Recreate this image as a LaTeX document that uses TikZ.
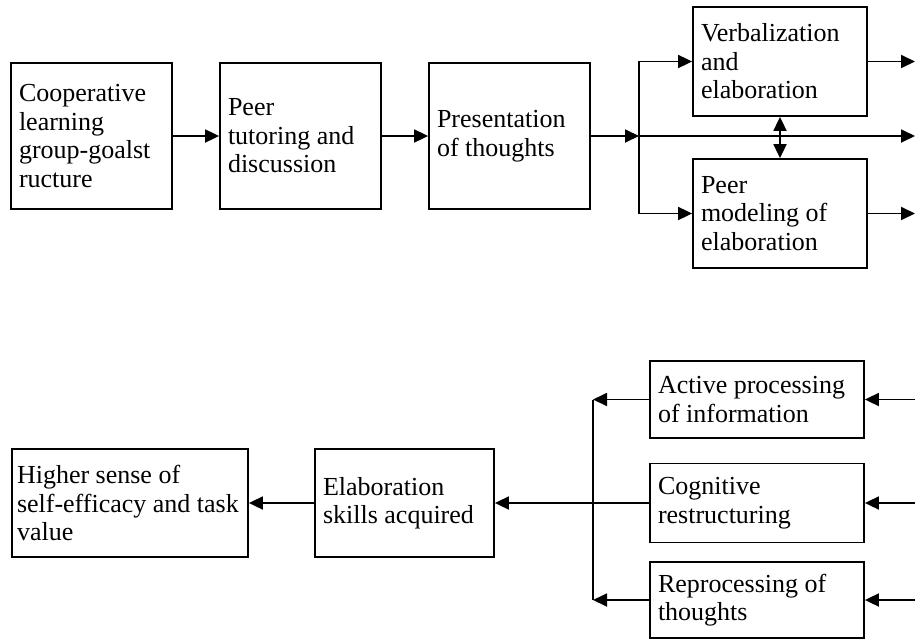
\documentclass[tikz,border=0pt]{standalone}
\usepackage{fontspec}
\setmainfont{Liberation Serif}
\usetikzlibrary{arrows.meta, positioning, calc}
\tikzset{
    box/.style={draw, line width=1.8pt, rectangle, align=flush left, inner xsep=8pt, inner ysep=0pt,
        font=\fontsize{26}{28.5}\selectfont},
    rowbox/.style={box, minimum width=161pt, text width=145pt, minimum height=146pt},
    sidebox/.style={box, minimum width=174pt, text width=158pt, minimum height=109pt},
    procbox/.style={box, minimum width=214pt, text width=198pt, minimum height=77pt},
    arrow/.style={-{Triangle[length=14pt,width=13pt]}, line width=1.8pt},
    line/.style={line width=1.8pt}
}
\begin{document}
\begin{tikzpicture}[x=1pt, y=-1pt]
    \useasboundingbox (0,0) rectangle (915,640);

    % upper chain
    \node (coop) [rowbox] at (91.5,136) {Cooperative\\learning\\group-goalst\\ructure};
    \node (peer) [rowbox] at (300.5,136) {Peer\\tutoring and\\discussion};
    \node (pres) [rowbox] at (509.5,136) {Presentation\\of thoughts};
    \node (verb) [sidebox] at (780,61.5) {Verbalization\\and\\elaboration};
    \node (model) [sidebox] at (780,213.5) {Peer\\modeling of\\elaboration};

    \coordinate (split) at (639,136);
    \coordinate (outV) at (915,61.5);
    \coordinate (outM) at (915,136);
    \coordinate (outP) at (915,213.5);

    \draw [arrow] (coop) -- (peer);
    \draw [arrow] (peer) -- (pres);
    \draw [arrow] (pres) -- (split);
    \draw [arrow] (split) |- (verb.west);
    \draw [arrow] (split) |- (model.west);
    \draw [arrow] (split) -- (outM);
    \draw [arrow] (verb) -- (outV);
    \draw [arrow] (model) -- (outP);
    \draw [arrow, {Triangle[length=14pt,width=13pt]}-{Triangle[length=14pt,width=13pt]}] (verb) -- (model);

    % lower chain
    \node (active) [procbox] at (757,399.5) {Active processing\\of information};
    \node (cog) [procbox, minimum height=79pt] at (757,503) {Cognitive\\restructuring};
    \node (repro) [procbox, minimum height=76pt] at (757,600) {Reprocessing of\\thoughts};
    \node (elab) [box, minimum width=179pt, text width=163pt, minimum height=108pt] at (404.5,503) {Elaboration\\skills acquired};
    \node (higher) [box, inner xsep=5pt, minimum width=236pt, text width=226pt, minimum height=108pt] at (130,503) {Higher sense of\\self-efficacy and task\\value};

    \coordinate (inA) at (915,399.5);
    \coordinate (inC) at (915,503);
    \coordinate (inR) at (915,600);
    \coordinate (joinA) at (593,399.5);
    \coordinate (joinR) at (593,600);

    \draw [arrow] (inA) -- (active);
    \draw [arrow] (inC) -- (cog);
    \draw [arrow] (inR) -- (repro);
    \draw [arrow] (active) -- (joinA);
    \draw [arrow] (repro) -- (joinR);
    \draw [line] (joinA) -- (joinR);
    \draw [arrow] (cog) -- (elab);
    \draw [arrow] (elab) -- (higher);
\end{tikzpicture}
\end{document}
